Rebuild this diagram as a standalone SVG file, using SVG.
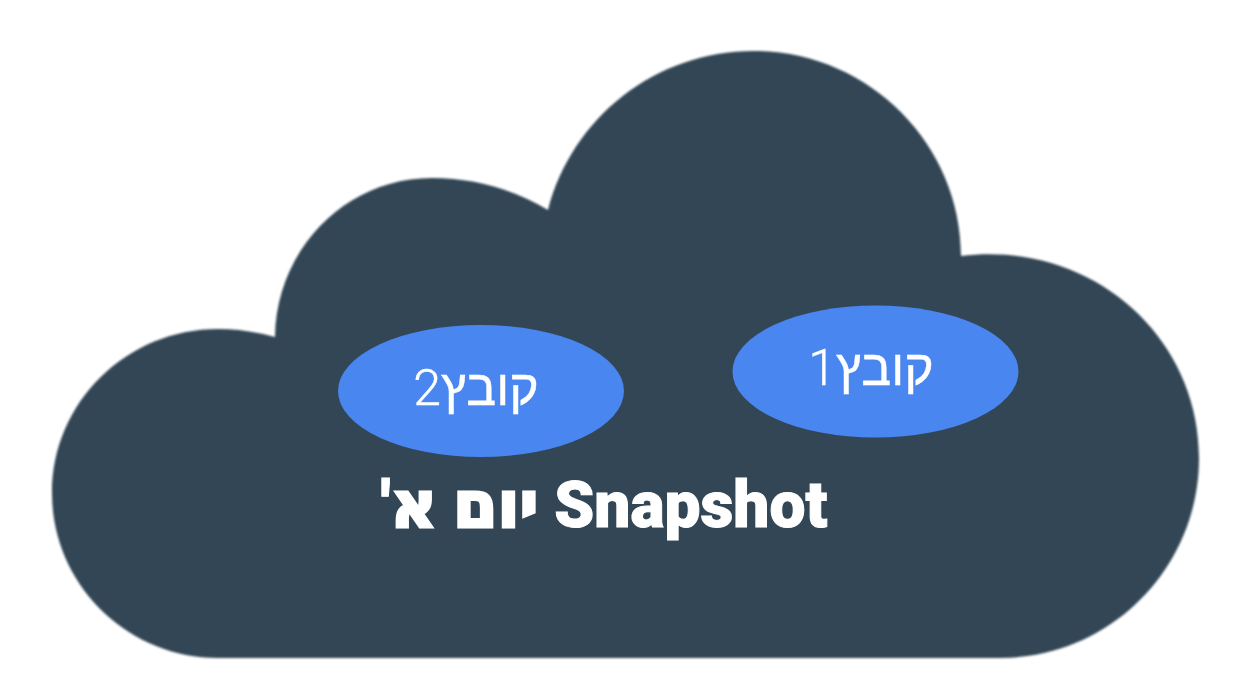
<svg xmlns="http://www.w3.org/2000/svg" width="1251" height="686" viewBox="0 0 1251 686">
<style>
.e{fill:#4a86f0}
.t{font-family:Roboto,"Noto Sans","DejaVu Sans",sans-serif;fill:#fff;text-anchor:middle}
.l{font-size:50px;font-weight:300;stroke:#fff;stroke-width:.4px}
.h{stroke:#fff;stroke-width:3px}
</style>
<defs><filter id="soft" x="-2%" y="-2%" width="104%" height="104%" color-interpolation-filters="sRGB"><feGaussianBlur stdDeviation="1"/></filter></defs>
<rect width="1251" height="686" fill="#fff"/>
<g id="cloud"><path fill="#324655" filter="url(#soft)" d="M218 658C127 658 52 584 52 493C52 402 127 329 218 329C238 329 257 332 275 337C276 250 345 178 432 178C475 178 515 190 548 210C572 118 655 51 754 51C868 51 961 144 961 256C1090 240 1199 335 1199 458C1199 568 1110 658 1000 658Z"/></g>
<g id="file2"><ellipse class="e" cx="481" cy="391" rx="143" ry="66"/><text class="t l" x="476" y="405">קובץ2</text></g>
<g id="file1"><ellipse class="e" cx="875.500" cy="371.500" rx="143" ry="66"/><text class="t l" x="871" y="385">קובץ1</text></g>
<g id="caption"><text class="t" x="604" y="527" font-size="64" font-weight="900" direction="rtl" stroke="#fff" stroke-width="1">Snapshot <tspan class="h">יום א</tspan>'</text></g>
</svg>
